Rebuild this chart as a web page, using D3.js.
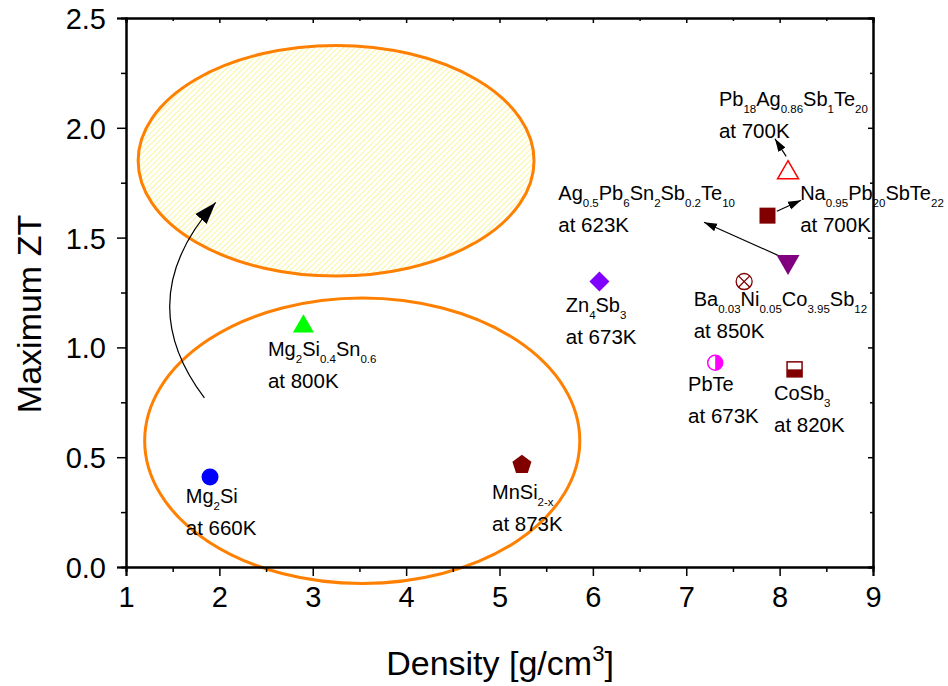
<!DOCTYPE html>
<html><head><meta charset="utf-8">
<script src="https://cdn.jsdelivr.net/npm/d3@7"></script>
<style>body{margin:0;background:#fff}svg{display:block}text{font-family:Arial,"Liberation Sans",sans-serif}</style>
</head><body><svg id="c" width="948" height="686"></svg>
<script>
// ---------- data ----------
const materials = ["Mg2Si","Mg2Si0.4Sn0.6","MnSi2-x","Zn4Sb3","PbTe","CoSb3","BaNiCoSb","AgPbSnSbTe","NaPbSbTe","PbAgSbTe"];
const density   = [1.90, 2.90, 5.24, 6.07, 7.31, 8.16, 7.62, 8.09, 7.87, 8.09];
const maxZT     = [0.41, 1.10, 0.47, 1.30, 0.93, 0.90, 1.30, 1.39, 1.60, 1.80];
const temps     = ["at 660K","at 800K","at 873K","at 673K","at 673K","at 820K","at 850K","at 623K","at 700K","at 700K"];
// formula pieces: [text, isSubscript]
const formulas = [
  [["Mg",0],["2",1],["Si",0]],
  [["Mg",0],["2",1],["Si",0],["0.4",1],["Sn",0],["0.6",1]],
  [["MnSi",0],["2-x",1]],
  [["Zn",0],["4",1],["Sb",0],["3",1]],
  [["PbTe",0]],
  [["CoSb",0],["3",1]],
  [["Ba",0],["0.03",1],["Ni",0],["0.05",1],["Co",0],["3.95",1],["Sb",0],["12",1]],
  [["Ag",0],["0.5",1],["Pb",0],["6",1],["Sn",0],["2",1],["Sb",0],["0.2",1],["Te",0],["10",1]],
  [["Na",0],["0.95",1],["Pb",0],["20",1],["SbTe",0],["22",1]],
  [["Pb",0],["18",1],["Ag",0],["0.86",1],["Sb",0],["1",1],["Te",0],["20",1]]
];
// label anchor in data units (left of text, baseline of first line)
const labelX = [1.64, 2.52, 4.92, 5.71, 7.02, 7.94, 7.08, 5.63, 8.22, 7.35];
const labelY = [0.29, 0.96, 0.31, 1.16, 0.80, 0.76, 1.19, 1.67, 1.67, 2.10];
const xTicks = [1,2,3,4,5,6,7,8,9];
const yTicks = [0.0,0.5,1.0,1.5,2.0,2.5];
// ellipses: cx, cy, rx, ry in data units
const ellipses = [
  {cx:3.25, cy:1.85, rx:2.12, ry:0.525, hatched:true},
  {cx:3.53, cy:0.575, rx:2.33, ry:0.65, hatched:false}
];
// straight arrows [x0,y0,x1,y1] (data units)
const arrowsStraight = [
  [8.03,1.41, 7.19,1.57],
  [7.97,1.62, 8.23,1.67],
  [8.07,1.87, 7.95,1.95]
];
// curved arrow: start, control, end
const curveArrow = [[1.84,0.77],[1.04,1.22],[1.96,1.66]];

// ---------- layout ----------
const svg = d3.select("#c");
const L=126, R=873, T=18, B=567;
const x = d3.scaleLinear().domain([1,9]).range([L,R]);
const y = d3.scaleLinear().domain([0,2.5]).range([B,T]);

// hatch pattern
const defs = svg.append("defs");
const pat = defs.append("pattern").attr("id","hatch").attr("patternUnits","userSpaceOnUse")
  .attr("width",4).attr("height",4).attr("patternTransform","rotate(45)");
pat.append("rect").attr("width",4).attr("height",4).attr("fill","#fff");
pat.append("line").attr("x1",0).attr("y1",0).attr("x2",0).attr("y2",4).attr("stroke","#f5f26a").attr("stroke-width",1.3);

// arrow markers
defs.append("marker").attr("id","ah").attr("viewBox","0 0 10 10").attr("refX",10).attr("refY",5)
  .attr("markerWidth",13).attr("markerHeight",13).attr("markerUnits","userSpaceOnUse").attr("orient","auto")
  .append("path").attr("d","M0,1.8 L10,5 L0,8.2 Z").attr("fill","#000");
defs.append("marker").attr("id","ahBig").attr("viewBox","0 0 10 10").attr("refX",10).attr("refY",5)
  .attr("markerWidth",22).attr("markerHeight",22).attr("markerUnits","userSpaceOnUse").attr("orient","auto")
  .append("path").attr("d","M0,1.6 L10,5 L0,8.4 Z").attr("fill","#000");

// ellipses
svg.selectAll("ellipse.e").data(ellipses).join("ellipse")
  .attr("cx",d=>x(d.cx)).attr("cy",d=>y(d.cy))
  .attr("rx",d=>x(d.cx+d.rx)-x(d.cx)).attr("ry",d=>y(d.cy-d.ry)-y(d.cy))
  .attr("fill",d=>d.hatched?"url(#hatch)":"none")
  .attr("stroke","#ff8000").attr("stroke-width",3);

// axes
const gx = svg.append("g").attr("transform",`translate(0,${B})`)
  .call(d3.axisBottom(x).tickValues(xTicks).tickFormat(d3.format("d")).tickSize(9).tickPadding(10));
const gxMinor = svg.append("g").attr("transform",`translate(0,${B})`)
  .call(d3.axisBottom(x).tickValues(d3.range(1.5,9,1)).tickFormat("").tickSize(5));
const gy = svg.append("g").attr("transform",`translate(${L},0)`)
  .call(d3.axisLeft(y).tickValues(yTicks).tickFormat(d3.format(".1f")).tickSize(9).tickPadding(11));
const gyMinor = svg.append("g").attr("transform",`translate(${L},0)`)
  .call(d3.axisLeft(y).tickValues(d3.range(0.25,2.5,0.5)).tickFormat("").tickSize(5));
const gt = svg.append("g").attr("transform",`translate(0,${T})`)
  .call(d3.axisTop(x).tickValues(xTicks).tickFormat("").tickSize(-5));
const gtm = svg.append("g").attr("transform",`translate(0,${T})`)
  .call(d3.axisTop(x).tickValues(d3.range(1.5,9,1)).tickFormat("").tickSize(-3));
const gr = svg.append("g").attr("transform",`translate(${R},0)`)
  .call(d3.axisRight(y).tickValues(yTicks).tickFormat("").tickSize(-5));
const grm = svg.append("g").attr("transform",`translate(${R},0)`)
  .call(d3.axisRight(y).tickValues(d3.range(0.25,2.5,0.5)).tickFormat("").tickSize(-3));
[gx,gxMinor,gy,gyMinor,gt,gtm,gr,grm].forEach(g=>{
  g.select(".domain").attr("stroke","#000").attr("stroke-width",2);
  g.selectAll(".tick line").attr("stroke","#000").attr("stroke-width",1.5);
  g.selectAll("text").attr("fill","#000").attr("font-size",29).attr("font-family","Arial, 'Liberation Sans', sans-serif");
});
gy.selectAll("text").attr("dy","0.36em");

// axis titles
const xt = svg.append("text").attr("x",500).attr("y",675).attr("text-anchor","middle").attr("font-size",34);
xt.append("tspan").text("Density [g/cm");
xt.append("tspan").text("3").attr("font-size",22).attr("dy",-14);
xt.append("tspan").text("]").attr("dy",14);
svg.append("text").attr("transform","translate(41,314) rotate(-90)").attr("text-anchor","middle")
  .attr("font-size",34).text("Maximum ZT");

// curved arrow
const cp = curveArrow.map(p=>[x(p[0]),y(p[1])]);
svg.append("path").attr("d",`M${cp[0][0]},${cp[0][1]} Q${cp[1][0]},${cp[1][1]} ${cp[2][0]},${cp[2][1]}`)
  .attr("fill","none").attr("stroke","#000").attr("stroke-width",1.2).attr("marker-end","url(#ahBig)");
// straight arrows
svg.selectAll("line.arr").data(arrowsStraight).join("line").attr("class","arr")
  .attr("x1",d=>x(d[0])).attr("y1",d=>y(d[1])).attr("x2",d=>x(d[2])).attr("y2",d=>y(d[3]))
  .attr("stroke","#000").attr("stroke-width",1.2).attr("marker-end","url(#ah)");

// markers
const g = svg.append("g");
const P = i=>[x(density[i]), y(maxZT[i])];
const sym = (type,size)=>d3.symbol().type(type).size(size)();
// 0 Mg2Si blue circle
g.append("circle").attr("cx",P(0)[0]).attr("cy",P(0)[1]).attr("r",8.5).attr("fill","#0000ff");
// 1 green triangle
g.append("path").attr("d",sym(d3.symbolTriangle,190)).attr("transform",`translate(${P(1)[0]},${P(1)[1]+1})`).attr("fill","#00ff00");
// 2 pentagon
{
  const r=10, pts=d3.range(5).map(k=>{const a=-Math.PI/2+k*2*Math.PI/5;return [r*Math.cos(a), r*Math.sin(a)];});
  g.append("path").attr("d",d3.line()(pts)+"Z").attr("transform",`translate(${P(2)[0]},${P(2)[1]+1})`).attr("fill","#800000");
}
// 3 diamond
g.append("path").attr("d",sym(d3.symbolSquare,200)).attr("transform",`translate(${P(3)[0]},${P(3)[1]}) rotate(45)`).attr("fill","#8000ff");
// 4 PbTe half circle (right half filled)
{
  const [cx,cy]=P(4), r=7.5;
  g.append("circle").attr("cx",cx).attr("cy",cy).attr("r",r).attr("fill","#fff").attr("stroke","#ff00ff").attr("stroke-width",1.5);
  g.append("path").attr("d",`M${cx},${cy-r} A${r},${r} 0 0 1 ${cx},${cy+r} Z`).attr("fill","#ff00ff");
}
// 5 CoSb3 half square (bottom filled)
{
  const [cx,cy]=P(5), h=7.5;
  g.append("rect").attr("x",cx-h).attr("y",cy-h).attr("width",2*h).attr("height",2*h).attr("fill","#fff").attr("stroke","#800000").attr("stroke-width",1.5);
  g.append("rect").attr("x",cx-h).attr("y",cy).attr("width",2*h).attr("height",h).attr("fill","#800000");
}
// 6 crossed circle
{
  const [cx,cy]=P(6), r=8, d=r*Math.SQRT1_2;
  g.append("circle").attr("cx",cx).attr("cy",cy).attr("r",r).attr("fill","none").attr("stroke","#800000").attr("stroke-width",1.3);
  g.append("path").attr("d",`M${cx-d},${cy-d}L${cx+d},${cy+d}M${cx+d},${cy-d}L${cx-d},${cy+d}`).attr("stroke","#800000").attr("stroke-width",1.3);
}
// 7 down triangle
g.append("path").attr("d",sym(d3.symbolTriangle,230)).attr("transform",`translate(${P(7)[0]},${P(7)[1]}) rotate(180)`).attr("fill","#800080");
// 8 square
g.append("path").attr("d",sym(d3.symbolSquare,256)).attr("transform",`translate(${P(8)[0]},${P(8)[1]})`).attr("fill","#800000");
// 9 open red triangle
g.append("path").attr("d",sym(d3.symbolTriangle,190)).attr("transform",`translate(${P(9)[0]},${P(9)[1]+1})`).attr("fill","#fff").attr("stroke","#ff0000").attr("stroke-width",1.5);

// labels
formulas.forEach((f,i)=>{
  const lx = x(labelX[i]), ly = y(labelY[i]);
  const tx = svg.append("text").attr("x",lx).attr("y",ly).attr("font-size",20);
  let sub=false;
  f.forEach(([s,isSub])=>{
    const ts = tx.append("tspan").text(s);
    if(isSub){ ts.attr("font-size",11.5).attr("dy",sub?0:7); sub=true; }
    else { ts.attr("dy",sub?-7:0); sub=false; }
  });
  svg.append("text").attr("x",lx).attr("y",ly+32).attr("font-size",20.5).text(temps[i]);
});
</script></body></html>
